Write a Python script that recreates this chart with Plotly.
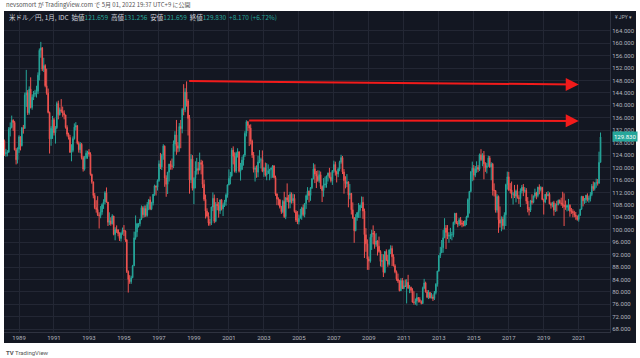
import plotly.graph_objects as go
import pandas as pd

# ---------------- data (USD/JPY monthly) ----------------
first_month = "1988-01-01"
first_open = 122.0

close = [
    127.5, 128.6, 124.4, 124.8, 124.9, 132.3, 132.9, 135.2, 134.5, 125.7, 122.5, 125.9,  # 1988
    129.9, 127.0, 132.8, 132.6, 143.3, 144.1, 137.6, 145.2, 139.3, 142.6, 143.6, 143.8,  # 1989
    144.5, 149.7, 157.7, 158.5, 151.6, 152.8, 146.3, 143.9, 137.7, 129.2, 132.6, 135.4,  # 1990
    131.2, 132.8, 140.6, 137.0, 138.6, 138.1, 137.5, 136.9, 132.9, 130.7, 129.7, 124.9,  # 1991
    125.5, 129.3, 133.0, 133.5, 127.8, 125.7, 127.5, 123.2, 119.5, 123.2, 124.6, 124.9,  # 1992
    124.3, 117.8, 115.4, 111.0, 107.1, 106.5, 104.8, 104.5, 105.7, 108.1, 109.0, 111.9,  # 1993
    108.9, 102.4, 102.8, 101.9, 104.4, 98.5, 100.1, 99.9, 98.8, 97.2, 98.9, 99.8,  # 1994
    99.6, 96.7, 86.6, 84.0, 83.3, 84.6, 88.4, 97.4, 99.3, 101.9, 101.9, 103.4,  # 1995
    107.1, 104.8, 106.8, 104.6, 108.2, 109.6, 106.7, 108.6, 111.4, 114.1, 113.7, 115.8,  # 1996
    121.2, 120.2, 123.9, 126.9, 116.6, 114.6, 118.5, 121.1, 120.5, 120.4, 127.6, 130.5,  # 1997
    127.0, 126.2, 133.2, 132.5, 138.7, 138.6, 144.3, 141.4, 135.8, 116.0, 122.7, 113.3,  # 1998
    116.5, 118.9, 119.7, 119.2, 121.6, 121.0, 114.6, 109.8, 106.0, 104.4, 102.2, 102.2,  # 1999
    107.3, 110.1, 102.7, 108.2, 107.8, 106.1, 109.6, 106.7, 107.9, 109.0, 111.2, 114.4,  # 2000
    116.5, 117.3, 125.6, 123.6, 118.8, 124.6, 125.0, 118.8, 119.4, 122.4, 124.0, 131.0,  # 2001
    134.7, 133.5, 132.7, 128.5, 124.0, 119.4, 119.8, 118.5, 121.8, 122.5, 122.5, 118.8,  # 2002
    119.9, 117.6, 118.1, 119.0, 119.4, 119.8, 120.5, 116.8, 111.5, 109.9, 109.6, 107.2,  # 2003
    105.8, 109.1, 104.2, 110.3, 109.6, 108.8, 111.4, 109.3, 110.1, 105.8, 103.1, 102.6,  # 2004
    103.7, 104.6, 107.1, 104.9, 108.4, 110.9, 112.4, 111.0, 113.5, 116.4, 119.6, 117.9,  # 2005
    117.2, 115.8, 117.7, 113.9, 112.6, 114.4, 114.7, 117.3, 118.2, 116.9, 115.8, 119.0,  # 2006
    121.0, 118.6, 117.9, 119.5, 121.7, 123.2, 118.6, 115.8, 114.8, 115.4, 111.2, 111.7,  # 2007
    106.4, 103.9, 99.7, 103.9, 105.5, 106.2, 107.9, 108.8, 106.0, 98.4, 95.5, 90.6,  # 2008
    89.9, 97.6, 98.9, 98.6, 95.3, 96.4, 94.7, 93.0, 89.8, 90.1, 86.3, 93.0,  # 2009
    90.3, 88.9, 93.5, 94.0, 91.3, 88.4, 86.5, 84.2, 83.5, 80.4, 83.7, 81.1,  # 2010
    82.0, 81.8, 83.1, 81.2, 81.5, 80.5, 76.7, 76.6, 77.1, 78.2, 77.6, 76.9,  # 2011
    76.3, 81.2, 82.9, 80.0, 78.3, 79.8, 78.1, 78.4, 77.9, 79.8, 82.5, 86.7,  # 2012
    91.7, 92.6, 94.2, 97.4, 100.5, 99.1, 97.9, 98.2, 98.3, 98.4, 102.4, 105.3,  # 2013
    102.0, 101.8, 103.2, 102.2, 101.8, 101.3, 102.8, 104.1, 109.7, 112.3, 118.6, 119.8,  # 2014
    117.5, 119.6, 120.1, 119.4, 124.1, 122.5, 123.9, 121.2, 119.9, 120.6, 123.1, 120.2,  # 2015
    121.1, 112.7, 112.6, 106.3, 110.7, 103.2, 102.1, 103.4, 101.3, 104.8, 114.5, 117.0,  # 2016
    112.8, 112.8, 111.4, 111.5, 110.8, 112.4, 110.3, 110.0, 112.5, 113.7, 112.5, 112.7,  # 2017
    109.2, 106.7, 106.3, 109.3, 108.8, 110.8, 111.9, 111.0, 113.7, 112.9, 113.6, 109.7,  # 2018
    108.9, 111.4, 110.9, 111.4, 108.3, 107.9, 108.7, 106.3, 108.1, 108.0, 109.5, 108.6,  # 2019
    108.4, 107.9, 107.5, 107.2, 107.8, 107.9, 105.9, 105.9, 105.5, 104.7, 104.3, 103.3,  # 2020
    104.7, 106.6, 110.7, 109.3, 109.6, 111.1, 109.7, 110.0, 111.3, 114.0, 113.2, 115.1,  # 2021
    115.1, 115.0, 121.659, 129.830,  # 2022
]

high = [
    129.0, 130.5, 129.0, 126.0, 125.6, 133.0, 134.5, 136.7, 135.5, 135.0, 126.3, 126.5,
    130.4, 130.0, 133.0, 133.7, 144.1, 151.4, 144.9, 146.1, 149.0, 143.5, 144.6, 145.0,
    146.3, 150.6, 158.3, 160.4, 158.7, 155.3, 153.2, 151.8, 145.4, 138.0, 133.3, 136.6,
    136.0, 133.3, 141.2, 141.5, 139.3, 142.0, 139.6, 138.4, 137.0, 133.6, 131.2, 130.5,
    127.5, 130.0, 134.2, 134.6, 133.5, 128.4, 128.2, 127.9, 123.7, 123.7, 125.5, 125.4,
    125.9, 124.9, 118.0, 115.4, 111.8, 109.5, 110.8, 105.6, 107.6, 108.5, 109.8, 112.4,
    113.6, 108.9, 105.6, 104.0, 105.0, 104.5, 100.8, 101.4, 100.2, 99.2, 99.2, 100.7,
    101.5, 99.8, 97.0, 86.9, 85.4, 85.2, 88.7, 99.4, 104.6, 102.2, 102.1, 103.5,
    107.8, 107.6, 107.8, 107.8, 108.9, 109.9, 110.7, 109.0, 111.5, 114.5, 114.2, 116.2,
    122.3, 124.7, 124.4, 127.5, 127.1, 117.5, 118.6, 121.2, 122.2, 122.9, 128.7, 131.7,
    135.3, 128.2, 134.3, 135.3, 139.2, 146.8, 145.5, 147.7, 142.0, 136.9, 124.3, 124.0,
    116.9, 122.0, 123.1, 121.8, 124.8, 122.5, 122.2, 116.1, 111.3, 106.9, 105.6, 103.5,
    107.4, 112.0, 111.3, 108.9, 110.2, 108.9, 109.7, 109.9, 108.5, 109.6, 111.7, 114.6,
    119.4, 118.6, 126.3, 126.8, 124.9, 125.1, 126.2, 125.3, 121.5, 123.5, 124.2, 131.7,
    135.2, 135.0, 133.8, 133.9, 129.0, 125.0, 120.4, 120.7, 123.8, 125.6, 123.2, 125.5,
    120.2, 121.6, 121.4, 121.0, 119.6, 120.0, 120.8, 120.8, 117.4, 111.7, 110.4, 109.9,
    107.7, 109.6, 112.2, 110.4, 114.9, 111.2, 112.2, 112.0, 111.6, 111.4, 106.3, 106.0,
    104.9, 106.7, 107.4, 108.1, 108.6, 111.3, 113.7, 112.6, 113.7, 116.5, 121.4, 121.0,
    118.9, 119.1, 119.0, 118.7, 114.2, 116.6, 117.1, 117.4, 118.4, 119.9, 118.5, 119.2,
    122.2, 121.9, 119.0, 120.0, 122.2, 124.1, 123.7, 119.5, 117.2, 117.9, 115.5, 114.7,
    111.8, 108.8, 104.1, 105.0, 105.7, 108.6, 108.0, 110.7, 110.6, 106.8, 100.5, 96.9,
    91.4, 98.6, 100.0, 101.4, 99.6, 98.9, 96.6, 97.8, 93.4, 92.2, 92.1, 93.1,
    93.7, 91.9, 93.7, 95.0, 94.9, 92.1, 88.9, 86.9, 85.9, 83.8, 84.4, 84.5,
    83.7, 84.0, 84.1, 85.5, 82.2, 81.7, 81.2, 80.2, 77.9, 79.6, 78.3, 78.3,
    77.3, 81.7, 84.2, 83.3, 80.6, 80.6, 80.0, 79.7, 79.2, 80.3, 82.8, 86.8,
    91.8, 94.5, 96.7, 99.9, 103.7, 101.5, 101.5, 99.2, 100.6, 99.3, 102.6, 105.4,
    105.4, 102.8, 103.8, 104.1, 103.0, 102.8, 103.1, 104.5, 110.1, 112.5, 118.9, 121.9,
    120.8, 120.5, 122.0, 120.8, 124.5, 125.9, 124.6, 125.3, 121.7, 121.5, 123.8, 123.7,
    121.7, 121.5, 114.9, 112.7, 111.4, 111.0, 107.5, 104.3, 104.2, 105.6, 114.8, 118.7,
    118.6, 115.0, 115.5, 112.2, 114.4, 112.9, 114.5, 111.1, 113.3, 114.4, 114.7, 113.7,
    113.4, 110.5, 107.3, 109.6, 111.4, 111.0, 113.2, 112.2, 113.8, 114.6, 114.0, 113.8,
    110.0, 111.5, 112.1, 112.4, 112.0, 108.8, 109.0, 109.3, 108.5, 109.3, 109.7, 109.7,
    110.3, 112.2, 111.7, 109.4, 108.1, 109.9, 108.2, 107.0, 106.6, 106.1, 105.7, 104.6,
    104.9, 106.7, 110.9, 110.9, 110.2, 111.2, 111.7, 110.8, 112.1, 114.7, 115.5, 115.2,
    116.4, 116.3, 125.1, 131.256,
]

low = [
    120.5, 127.0, 123.7, 123.5, 123.6, 124.8, 130.0, 132.6, 131.8, 125.5, 121.0, 121.3,
    124.7, 125.5, 126.8, 130.9, 132.4, 139.5, 136.9, 137.0, 139.0, 138.6, 141.7, 142.8,
    142.5, 143.6, 148.0, 155.3, 151.0, 150.7, 145.8, 143.4, 137.4, 124.5, 127.0, 129.2,
    130.3, 127.7, 132.4, 135.5, 136.7, 137.6, 136.3, 135.5, 132.5, 130.0, 129.0, 124.7,
    122.0, 124.9, 129.0, 131.9, 127.4, 124.8, 124.6, 122.6, 118.7, 119.0, 122.7, 122.8,
    123.5, 117.4, 114.8, 110.1, 106.6, 105.5, 104.4, 100.4, 103.7, 104.8, 106.7, 108.2,
    108.7, 101.2, 101.5, 101.3, 101.7, 98.2, 96.6, 99.0, 97.9, 96.4, 96.2, 98.4,
    98.0, 96.1, 86.1, 79.8, 82.6, 82.6, 84.4, 88.3, 96.8, 97.7, 100.7, 101.1,
    103.1, 103.8, 104.0, 104.1, 104.2, 106.3, 106.3, 106.3, 107.8, 110.9, 111.0, 112.6,
    115.4, 119.5, 119.2, 122.5, 113.8, 110.6, 111.5, 115.5, 119.3, 119.3, 119.8, 125.1,
    124.1, 124.9, 125.1, 126.2, 131.0, 136.8, 137.8, 139.6, 130.3, 111.6, 115.0, 112.6,
    108.2, 113.3, 117.7, 117.8, 119.1, 117.8, 113.4, 109.2, 103.6, 104.0, 101.3, 101.3,
    101.5, 106.0, 102.1, 102.4, 106.3, 103.9, 105.1, 106.2, 104.4, 107.3, 107.7, 110.3,
    114.3, 114.6, 117.1, 121.0, 118.4, 118.2, 123.2, 118.4, 115.8, 119.2, 120.6, 123.4,
    130.0, 131.8, 126.9, 127.4, 123.1, 118.4, 115.5, 116.7, 116.9, 121.4, 119.7, 118.5,
    117.0, 117.1, 115.9, 117.9, 115.9, 116.5, 116.7, 116.5, 110.9, 107.9, 107.8, 106.8,
    105.1, 105.3, 103.8, 103.4, 108.9, 106.8, 106.9, 108.4, 108.5, 105.5, 102.5, 101.8,
    101.7, 103.7, 103.2, 104.3, 104.0, 106.7, 109.6, 108.8, 109.3, 113.1, 116.2, 115.0,
    113.4, 115.4, 115.1, 113.1, 108.9, 110.6, 113.5, 113.5, 115.5, 116.5, 115.2, 114.4,
    118.3, 117.4, 115.2, 116.9, 118.8, 121.2, 117.9, 111.6, 113.3, 113.7, 107.2, 109.8,
    104.9, 103.5, 95.8, 99.5, 102.9, 103.8, 103.8, 107.0, 103.5, 90.9, 92.9, 87.1,
    87.1, 89.4, 93.5, 95.3, 93.9, 94.5, 91.7, 92.6, 88.2, 88.0, 84.8, 86.0,
    89.9, 88.1, 88.5, 92.2, 88.3, 88.2, 86.0, 83.6, 82.9, 80.2, 80.3, 80.9,
    80.9, 81.6, 76.3, 81.0, 79.6, 79.7, 76.6, 75.9, 75.9, 75.6, 76.6, 76.6,
    76.0, 76.1, 80.9, 79.8, 78.0, 77.7, 77.9, 77.9, 77.1, 77.4, 79.2, 81.7,
    86.5, 90.9, 92.5, 92.6, 97.3, 93.8, 97.0, 95.8, 97.0, 96.6, 97.6, 101.6,
    101.8, 100.8, 101.2, 101.4, 100.8, 101.1, 101.1, 101.5, 103.8, 105.2, 112.0, 115.6,
    115.9, 116.9, 118.3, 118.5, 118.9, 122.1, 120.4, 116.2, 118.6, 118.1, 120.2, 119.9,
    115.9, 111.0, 110.7, 105.5, 105.5, 99.0, 100.7, 99.5, 100.1, 100.1, 101.2, 112.9,
    112.5, 111.7, 110.1, 108.1, 110.2, 108.8, 110.0, 108.3, 107.3, 111.7, 110.8, 111.9,
    108.3, 105.6, 104.6, 105.7, 108.1, 108.5, 110.3, 109.8, 110.4, 111.4, 112.3, 109.5,
    104.9, 108.5, 109.7, 110.8, 108.2, 106.8, 107.2, 104.5, 105.7, 105.9, 107.9, 108.4,
    107.7, 107.0, 101.2, 106.4, 105.9, 106.1, 104.2, 105.1, 104.0, 104.0, 103.2, 102.9,
    102.6, 104.4, 106.4, 107.5, 108.3, 108.6, 109.1, 108.7, 109.1, 110.8, 112.5, 112.6,
    113.5, 114.2, 114.7, 121.659,
]

tick_years = [1989, 1991, 1993, 1995, 1997, 1999, 2001, 2003, 2005, 2007,
              2009, 2011, 2013, 2015, 2017, 2019, 2021]
price_ticks = [68, 72, 76, 80, 84, 88, 92, 96, 100, 104, 108, 112, 116, 120, 124,
               128, 132, 136, 140, 144, 148, 152, 156, 160, 164]

# red arrows (start at the 1998 and 2002 highs)
arrow_start_dates = ["1998-08-23", "2002-01-28"]
arrow_start_values = [147.8, 135.15]
arrow_end_dates = ["2021-01-01", "2021-01-01"]
arrow_end_values = [146.7, 135.0]

last_price = 129.830
legend_values = ["121.659", "131.256", "121.659", "129.830", "+8.170 (+6.72%)"]

assert len(close) == len(high) == len(low), (len(close), len(high), len(low))

# ---------------- figure ----------------
dates = pd.date_range(first_month, periods=len(close), freq="MS")
opens = [first_open] + close[:-1]

UP = "#26a69a"
DOWN = "#ef5350"
BG = "#131722"
GRID = "#232734"
TXT = "#b2b5be"

fig = go.Figure(go.Candlestick(
    x=dates, open=opens, high=high, low=low, close=close,
    increasing=dict(line=dict(color=UP, width=1), fillcolor=UP),
    decreasing=dict(line=dict(color=DOWN, width=1), fillcolor=DOWN),
    whiskerwidth=0, showlegend=False, hoverinfo="skip",
))

L, R, T, B = 4, 30, 11, 26
W, H = 640, 358
pw, ph = W - L - R, H - T - B


def px(x):
    return (x - L) / pw


def py(y):
    return (H - B - y) / ph


fig.update_layout(
    width=W, height=H, autosize=False,
    margin=dict(l=L, r=R, t=T, b=B, pad=0),
    paper_bgcolor="white", plot_bgcolor=BG,
    font=dict(family="Roboto, Noto Sans CJK JP", size=6, color=TXT),
    xaxis=dict(
        range=["1988-02-22", "2022-10-16"],
        rangeslider=dict(visible=False),
        tickvals=[f"{y}-01-01" for y in tick_years],
        ticktext=[str(y) for y in tick_years],
        showgrid=True, gridcolor=GRID, gridwidth=1,
        showline=True, linecolor="#2f3340", linewidth=1,
        ticks="", zeroline=False, fixedrange=True,
        tickfont=dict(size=6, color=TXT),
    ),
    yaxis=dict(
        side="right", range=[67.12, 170.33],
        tickvals=price_ticks, ticktext=[f"{v:.3f}" for v in price_ticks],
        showgrid=True, gridcolor=GRID, gridwidth=1,
        showline=True, linecolor="#2f3340", linewidth=1,
        ticks="", ticklen=0, zeroline=False, fixedrange=True,
        tickfont=dict(size=6, color=TXT),
    ),
    shapes=[dict(type="rect", xref="paper", yref="paper",
                 x0=px(4), x1=px(636), y0=py(343), y1=py(11),
                 fillcolor=BG, line=dict(width=0), layer="below")],
)

ann = []
ann.append(dict(xref="paper", yref="paper", x=px(4), y=py(5), xanchor="left", yanchor="middle",
                text="nevsomort が TradingView.com で 5月 01, 2022 19:37 UTC+9 に公開",
                showarrow=False, font=dict(family="Noto Sans CJK JP", size=6, color="#555555")))
lab = ["始値", "高値", "安値", "終値"]
parts = "米ドル／円, 1月, IDC  "
for name, val in zip(lab, legend_values[:4]):
    parts += f"{name}<span style='color:{UP}'>{val}</span>  "
parts += f"<span style='color:{UP}'>{legend_values[4]}</span>"
ann.append(dict(xref="paper", yref="paper", x=px(7), y=py(17), xanchor="left", yanchor="middle",
                text=parts, showarrow=False,
                font=dict(family="Noto Sans CJK JP", size=6.5, color="#d1d4dc")))
ann.append(dict(xref="paper", yref="y", x=px(612), y=last_price, xanchor="left", yanchor="middle",
                text=f"{last_price:.3f}", showarrow=False, bgcolor=UP, borderpad=1,
                font=dict(size=6, color="white")))
ann.append(dict(xref="paper", yref="paper", x=px(623), y=py(17), xanchor="center", yanchor="middle",
                text="¥ JPY ▾", showarrow=False, font=dict(size=5, color=TXT)))
ann.append(dict(xref="paper", yref="paper", x=px(4), y=py(352), xanchor="left", yanchor="middle",
                text="<b>TV</b> TradingView", showarrow=False,
                font=dict(size=6, color="#555555")))
for sd, sv, ed, ev in zip(arrow_start_dates, arrow_start_values, arrow_end_dates, arrow_end_values):
    ann.append(dict(xref="x", yref="y", axref="x", ayref="y",
                    x=ed, y=ev, ax=sd, ay=sv, text="", showarrow=True,
                    arrowhead=2, arrowsize=1.3, arrowwidth=2, arrowcolor="#f21b1b",
                    standoff=0, startstandoff=0))
fig.update_layout(annotations=ann)

fig.write_html("out.html", config={"displayModeBar": False},
               post_script="document.body.style.margin='0';document.body.style.overflow='hidden';")
